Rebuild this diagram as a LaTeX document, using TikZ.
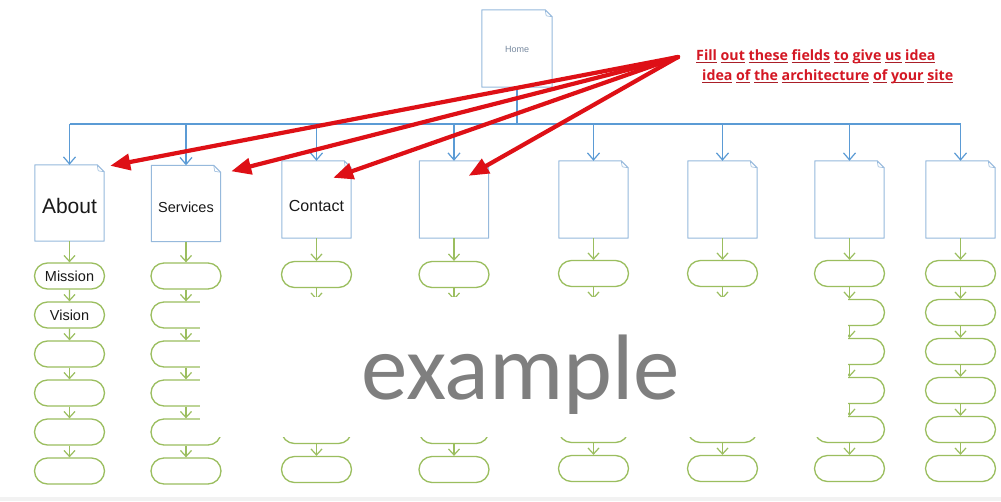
\documentclass[tikz,border=0pt]{standalone}
\usepackage{fontspec}
\setmainfont{Liberation Sans}
\newfontfamily\redfont{Open Sans}
\newfontfamily\exfont{Carlito}
\usetikzlibrary{arrows.meta,shapes.misc}
\definecolor{busblue}{RGB}{91,155,213}
\definecolor{boxblue}{RGB}{150,185,220}
\definecolor{pillgreen}{RGB}{155,190,95}
\definecolor{arrowred}{RGB}{222,16,22}
\definecolor{textred}{RGB}{212,24,36}
\definecolor{ulred}{RGB}{170,30,40}
\definecolor{hometext}{RGB}{120,138,160}
\definecolor{exgray}{RGB}{127,127,127}
\newsavebox\wulbox
\newcommand\wul[1]{\sbox\wulbox{#1}\rlap{\textcolor{ulred}{\rule[-2.6pt]{\wd\wulbox}{0.8pt}}}\usebox\wulbox}
\newcommand\lowered[2]{\raisebox{-#1}[0pt][0pt]{#2}}
\tikzset{
  pagebox/.style={minimum width=69pt, minimum height=77pt, inner sep=0pt, text=black!90},
  pageline/.style={draw=boxblue, line width=1pt, line join=round},
  pill/.style={rounded rectangle, draw=pillgreen, line width=1.3pt, minimum width=70pt,
    minimum height=26pt, inner sep=0pt, text=black!90, font=\fontsize{14.5}{16}\selectfont},
  garrow/.style={draw=pillgreen, line width=1.2pt, -{Straight Barb[length=6pt,width=11pt]}},
  barrow/.style={draw=busblue, line width=1.2pt, -{Straight Barb[length=7pt,width=12pt]}},
  busline/.style={draw=busblue, line width=1.5pt},
  redarrow/.style={draw=arrowred, line width=4.2pt, line cap=round, -{Triangle[length=20pt,width=16pt]}},
  redtext/.style={anchor=base west, inner sep=0pt, text=textred, font=\redfont\bfseries\fontsize{14.2}{17}\selectfont}
}
\begin{document}
\begin{tikzpicture}[x=1pt,y=-1pt]
\fill[white] (0,0) rectangle (1001,501);
\useasboundingbox (0,0) rectangle (1001,501);
\fill[black!5] (0,497) rectangle (1001,501);

% page boxes
\node[pagebox, minimum width=70pt, text=hometext, font=\fontsize{9}{10}\selectfont] (home) at (517,48.5) {\lowered{3.8pt}{Home}};
\node[pagebox, minimum height=76pt, font=\fontsize{21}{24}\selectfont] (c1) at (69.5,203) {\lowered{10pt}{About}};
\node[pagebox, minimum height=76pt, font=\fontsize{14.5}{17}\selectfont] (c2) at (186,203.5) {\lowered{8.8pt}{Services}};
\node[pagebox, font=\fontsize{16}{19}\selectfont] (c3) at (316.5,199.5) {\lowered{12pt}{Contact}};
\node[pagebox] (c4) at (454,199.5) {};
\node[pagebox] (c5) at (593.5,199.5) {};
\node[pagebox] (c6) at (722.5,199.5) {};
\node[pagebox] (c7) at (849.5,199.5) {};
\node[pagebox] (c8) at (960.5,199.5) {};
\foreach \n in {home,c1,c2,c3,c4,c5,c6,c7,c8} {
  \draw[pageline] (\n.north west) -- ([xshift=-7pt]\n.north east) -- ([yshift=-7pt]\n.north east)
     -- (\n.south east) -- (\n.south west) -- cycle;
  \draw[pageline, line width=0.6pt] ([xshift=-7pt]\n.north east) -- ([xshift=-6pt,yshift=-6pt]\n.north east) -- ([yshift=-7pt]\n.north east);
}

% bus
\coordinate (bus) at (517,124);
\draw[busline] (c1.north |- bus) -- (c8.north |- bus);
\draw[busline] (home) -- (home |- bus);
\foreach \c in {1,...,8} \draw[barrow] (c\c.north |- bus) -- (c\c);

% pills
\foreach \c/\x/\y/\ta/\tb in {1/69.5/276/Mission/Vision, 2/186/276//, 3/316.5/274.5//, 4/454/274.5//,
    5/593.5/273.5//, 6/722.5/273.5//, 7/849.5/273.5//, 8/960.5/273.5//} {
  \foreach \k in {0,...,5} {
    \node[pill] (p\c-\k) at (\x,\y+39*\k) {\ifnum\k=0 \ta\else\ifnum\k=1 \tb\fi\fi};
  }
  \draw[garrow] (c\c) -- (p\c-0);
  \foreach \k [evaluate=\k as \kk using int(\k+1)] in {0,...,4}
    \draw[garrow] (p\c-\k) -- (p\c-\kk);
}

% cover with watermark
\fill[white] (200,297) rectangle (848,437);
\node[anchor=base, inner sep=0pt, text=exgray, font=\exfont\fontsize{93}{100}\selectfont] (ex) at (520.5,399) {example};

% red annotation
\node[redtext] (t1) at (696,60) {\wul{Fill} \wul{out} \wul{these} \wul{fields} \wul{to} \wul{give} \wul{us} \wul{idea}};
\node[redtext] (t2) at (702,80) {\wul{idea} \wul{of} \wul{the} \wul{architecture} \wul{of} \wul{your} \wul{site}};
\coordinate (src) at (678,57);
\draw[redarrow] (src) -- ([xshift=6pt,yshift=-1pt]c1.north east);
\draw[redarrow] (src) -- ([xshift=10.5pt,yshift=-6pt]c2.north east);
\draw[redarrow] (src) -- ([xshift=-18pt,yshift=-17pt]c3.north east);
\draw[redarrow] (src) -- ([xshift=-20pt,yshift=-15pt]c4.north east);
\end{tikzpicture}
\end{document}
